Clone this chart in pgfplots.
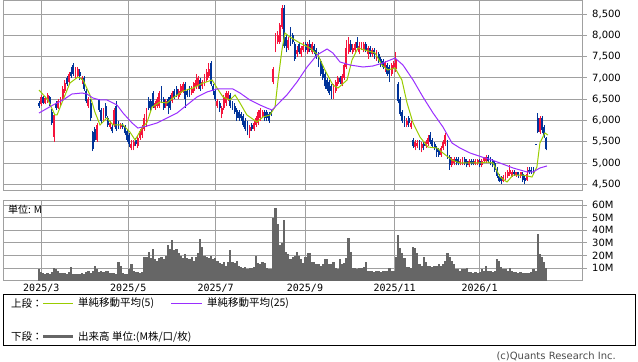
\documentclass[border=0pt]{standalone}
\usepackage{pgfplots}
\pgfplotsset{compat=1.18}
\usepackage{pgfplotstable}
\usepackage{fontspec}
\setmainfont{DejaVu Sans}
\newfontfamily\jp{Noto Sans CJK JP}
\newfontfamily\mono{DejaVu Sans Mono}
\definecolor{upred}{HTML}{F5143C}
\definecolor{downblue}{HTML}{003399}
\definecolor{mafivec}{HTML}{99CC00}
\definecolor{matwfc}{HTML}{9A2EFF}
\definecolor{volc}{HTML}{666666}
\definecolor{gridc}{HTML}{A0A0A0}

\pgfplotstableread{
x o h l c v
0 6420 6450 6300 6340 9
1 6380 6600 6350 6560 7
2 6550 6580 6380 6420 6
3 6400 6560 6380 6520 5.5
4 6450 6650 6420 6600 6
5 6550 6580 6350 6380 5.5
6 6200 6280 5900 5950 7
7 5620 6150 5500 6120 10
8 6400 6450 6250 6300 9.5
9 6300 6500 6280 6450 8
10 6400 6560 6350 6520 6
11 6500 6800 6480 6750 6.5
12 6700 6950 6650 6880 6
13 7000 7050 6800 6850 5.5
14 6900 7150 6850 7100 7
15 7150 7250 7000 7050 10.5
16 7300 7350 7050 7100 5
17 7050 7250 7000 7150 5.5
18 7050 7250 7000 7200 5
19 7150 7200 6950 7050 5
20 6950 7050 6850 7000 6
21 7000 7050 6700 6750 5
22 6700 6750 6400 6450 7
23 6350 6550 6300 6500 7.5
24 6400 6500 6000 6050 6.5
25 5730 5750 5280 5320 8
26 5800 5850 5500 5550 11.5
27 5550 5950 5500 5900 9
28 6480 6500 6200 6250 7
29 6250 6300 5950 6000 8
30 6050 6300 6000 6250 7
31 6350 6400 6050 6100 8
32 6050 6100 5850 5900 7.5
33 5850 6000 5800 5950 6.5
34 5850 5900 5700 5750 6
35 5900 6300 5850 6250 6
36 6350 6450 5750 5800 5.5
37 5950 6000 5800 5850 15
38 5850 5950 5800 5900 12
39 5900 5950 5800 5850 6
40 5850 5900 5650 5700 5
41 5750 5800 5500 5550 5.5
42 5650 5700 5380 5450 9
43 5350 5550 5300 5450 13
44 5400 5550 5300 5500 8
45 5550 5600 5400 5450 7
46 5400 5650 5350 5600 7
47 5600 5800 5550 5750 6.5
48 5650 5900 5600 5850 7
49 5800 6150 5750 6050 19
50 5900 6300 5850 6250 19
51 6450 6550 6250 6300 23
52 6450 6500 6200 6250 18
53 6650 6700 6300 6350 25
54 6300 6450 6250 6400 17
55 6350 6550 6300 6500 16
56 6350 6700 6300 6650 18
57 6700 6800 6400 6450 19
58 6500 6550 6250 6300 17
59 6350 6500 6300 6450 20
60 6500 6550 6150 6350 28
61 6550 6600 6250 6300 25
62 6450 6700 6400 6650 32
63 6700 6750 6500 6550 24
64 6750 6800 6550 6600 25
65 6550 6750 6500 6700 22
66 6650 6850 6600 6800 20
67 6700 6900 6650 6850 18
68 6850 6900 6300 6500 21
69 6700 6750 6550 6600 18
70 6750 6800 6550 6600 17
71 6650 6800 6600 6750 19
72 6700 6900 6650 6880 16
73 6800 7100 6750 6950 19
74 6800 7050 6750 7000 22
75 6950 7000 6700 6750 33
76 6800 6950 6750 6900 27
77 6850 7100 6800 7050 20
78 6950 7200 6900 7150 19
79 7050 7350 7000 7200 18
80 7350 7400 6800 6850 20
81 6800 6850 6600 6700 17
82 6700 6750 6450 6500 18
83 6350 6500 6300 6450 16
84 6400 6450 6200 6300 14
85 6150 6350 6050 6300 13
86 6300 6600 6250 6550 15
87 6400 6700 6350 6650 12
88 6500 6700 6450 6650 15
89 6600 6650 6300 6350 24
90 6400 6450 6250 6300 15
91 6350 6400 6150 6200 14
92 6250 6300 6000 6050 16
93 6200 6250 6000 6050 12
94 6150 6200 6000 6050 11
95 6100 6150 5850 5900 10
96 6000 6050 5750 5800 11
97 5950 6000 5650 5750 9
98 5750 5900 5600 5850 10
99 5900 5950 5750 5800 10
100 5800 6000 5750 5950 11
101 5900 6100 5850 6050 20
102 5950 6250 5900 6200 14
103 6050 6300 6000 6250 13
104 6100 6250 6050 6200 15
105 6200 6250 6000 6050 14
106 6200 6250 6000 6050 10
107 6150 6200 5950 6000 9
108 6200 6250 6100 6150 9.5
109 6900 7250 6850 7200 50
110 7700 8050 7600 7950 58
111 7850 8100 7800 8000 45
112 7850 8300 7800 8250 28
113 8200 8700 8150 8650 30
114 8650 8700 7700 7750 48
115 7950 8000 7600 7750 23
116 7700 7950 7650 7900 21
117 8150 8200 7750 7800 17
118 8000 8050 7800 7850 19
119 7800 7850 7400 7450 20
120 7550 7750 7500 7650 23
121 7800 7850 7550 7600 20
122 7550 7750 7500 7700 17
123 7650 7850 7600 7750 14
124 7800 7850 7600 7650 19
125 7600 7850 7550 7800 22
126 7800 7900 7600 7650 22
127 7600 7850 7550 7800 15
128 7750 7800 7550 7600 15
129 7650 7700 7450 7500 13
130 7550 7600 7250 7300 13
131 7400 7450 7050 7100 12
132 7200 7300 6950 7000 13
133 7100 7150 6750 6800 17
134 6950 7000 6700 6750 17
135 6900 6950 6600 6650 13
136 6800 6850 6500 6700 13
137 6600 6850 6500 6800 15
138 6700 6950 6650 6900 10
139 6850 7050 6800 7000 9
140 7000 7050 6850 6900 17
141 6850 7100 6800 7050 13
142 7000 7350 6950 7300 14
143 7250 7900 7200 7700 18
144 7600 7950 7550 7800 34
145 7800 7900 7600 7650 23
146 7600 7800 7550 7700 10
147 7650 7850 7600 7800 10
148 7850 7950 7650 7700 9
149 7600 7850 7550 7750 10
150 7700 7850 7650 7800 10
151 7650 7850 7600 7800 11
152 7800 7850 7600 7650 15
153 7550 7750 7450 7700 8
154 7700 7750 7500 7550 8
155 7550 7700 7500 7650 8
156 7650 7700 7450 7550 7
157 7450 7650 7400 7600 8
158 7550 7600 7350 7400 8
159 7450 7500 7250 7300 7
160 7400 7450 7200 7250 8
161 7250 7400 7150 7350 8
162 7300 7350 7050 7100 8
163 7250 7300 6900 7100 10
164 7100 7350 7050 7300 8
165 7250 7400 7200 7350 8
166 7200 7600 7150 7450 19
167 6850 6900 6400 6450 36
168 6500 6550 6100 6150 26
169 6200 6250 5950 6000 22
170 6050 6100 5850 5900 18
171 5900 6050 5850 6000 11
172 6050 6100 5850 5950 11
173 5850 6000 5800 5950 10
174 5550 5600 5350 5400 27
175 5380 5550 5300 5500 26
176 5400 5550 5350 5480 22
177 5500 5550 5300 5380 13
178 5350 5500 5250 5450 12
179 5450 5500 5300 5400 19
180 5400 5550 5350 5500 15
181 5450 5650 5400 5600 12
182 5650 5730 5450 5500 12
183 5550 5600 5350 5400 11
184 5450 5500 5300 5350 12
185 5350 5400 5150 5250 12
186 5300 5350 5150 5200 13
187 5200 5400 5150 5350 12
188 5350 5550 5300 5500 13
189 5450 5700 5400 5650 16
190 5500 5550 5100 5150 22
191 5150 5200 4850 4950 19
192 4950 5150 4900 5100 16
193 5000 5150 4950 5100 13
194 5100 5150 4950 5050 9
195 5100 5150 4950 5000 9
196 5000 5100 4950 5050 8
197 5000 5150 4950 5100 9
198 5100 5150 4950 5000 9
199 5050 5100 4900 4950 10
200 4950 5100 4900 5050 7
201 5050 5100 4950 5000 7
202 5050 5100 4950 4980 6
203 4980 5100 4950 5050 7
204 5000 5100 4950 5080 6.5
205 5050 5100 4900 4960 7
206 4950 5100 4900 5050 9
207 5050 5150 5000 5120 8
208 5050 5180 5000 5150 12
209 5150 5200 5000 5050 8
210 5100 5150 4950 5000 8
211 5050 5100 4900 4950 7
212 5000 5050 4800 4850 8
213 4850 4900 4650 4700 17
214 4700 4750 4550 4580 16
215 4650 4700 4520 4570 11
216 4580 4720 4550 4680 9
217 4650 4800 4600 4750 9
218 4700 4850 4650 4800 8
219 4750 4950 4700 4850 10
220 4700 4850 4680 4780 8
221 4800 4850 4700 4750 7
222 4720 4800 4680 4780 7
223 4780 4800 4650 4720 6.5
224 4700 4800 4650 4780 7
225 4750 4780 4550 4600 6
226 4650 4700 4520 4580 6
227 4600 4900 4580 4750 6.5
228 4850 4900 4750 4780 6
229 4850 4900 4750 4780 7
230 4850 4900 4750 4800 9
231 5460 5460 5440 5440 8
232 6050 6180 5700 5720 37
233 5720 6100 5680 6050 21
234 6050 6100 5700 5780 19
235 5850 5900 5600 5650 15
236 5600 5620 5300 5320 10
}\candles

\pgfplotstableread{
x y
0 6716
4.2 6482
7.4 6130
8.4 6130
11.2 6482
14.4 6880
18.1 7021
20.5 6951
23.7 6599
26.0 6200
28.4 5895
31.6 6060
34.4 5895
39.1 5895
42.3 5730
44.7 5543
47.9 5824
50.2 5950
52.6 6317
56.3 6435
59.5 6411
62.3 6529
67.0 6693
71.6 6763
76.3 6880
80.5 6951
82.8 6763
85.6 6552
88.8 6482
91.2 6599
93.5 6411
96.7 6130
101.4 5965
104.2 6083
107.4 6130
109.8 6317
111.2 6951
113.0 7655
114.4 8054
116.7 7960
121.4 7819
126.0 7702
129.8 7538
133.0 7186
136.7 6834
139.1 6763
143.3 6951
145.6 7420
148.4 7702
151.6 7655
156.3 7585
159.5 7303
162.3 7186
165.6 7233
168.8 6951
171.2 6411
174.0 5942
177.2 5613
180.9 5378
185.1 5355
187.9 5238
192.1 5073
195.8 5003
200.5 5003
205.1 5003
208.4 5026
211.2 5003
214.4 4674
217.7 4557
220.5 4721
225.1 4721
229.3 4674
231.6 4909
233.0 5472
235.3 5707
236.7 5660
}\mafive

\pgfplotstableread{
x y
0 6176
6.5 6364
11.2 6482
15.3 6622
20.0 6646
22.3 6622
25.1 6529
28.4 6482
31.6 6482
36.3 6364
39.1 6176
43.3 5942
46.0 5824
50.2 5871
54.9 5942
59.5 6059
64.2 6176
68.8 6364
73.5 6552
78.1 6669
82.8 6740
90.2 6740
93.5 6646
98.1 6482
102.8 6364
106.0 6294
108.4 6247
110.7 6364
115.3 6599
120.0 6904
124.7 7256
129.3 7538
134.0 7679
136.7 7585
140.0 7374
144.7 7303
150.7 7256
155.3 7280
160.0 7350
165.6 7467
169.3 7303
174.0 6951
178.6 6552
183.3 6176
187.9 5848
192.1 5472
195.8 5355
200.5 5238
206.0 5144
210.7 5073
214.4 5003
220.5 4886
227.0 4792
229.8 4792
233.0 4886
236.3 4933
}\matwentyfive

\pgfplotsset{
  candlebase/.style={draw=none, mark=none,
    error bars/y dir=plus, error bars/y explicit, error bars/error mark=none},
  common/.style={
    scale only axis, width=579.4bp,
    xmin=-16.6, xmax=252.9,
    xtick={1.07,41.53,82.19,123.72,165.44,204.98},
    grid=major, grid style={gridc, line width=0.9bp},
    axis line style={gridc, line width=0.9bp},
    ytick pos=right, yticklabel pos=right,
    tick align=outside, major tick length=4bp,
    ytick style={gridc, line width=0.9bp},
    xtick style={draw=none},
    /pgf/number format/assume math mode=true,
    yticklabel style={font=\fontsize{10bp}{12bp}\selectfont, xshift=2bp},
  }
}

\begin{document}
\begin{tikzpicture}[x=1bp,y=1bp]
\path[use as bounding box] (0bp,0bp) rectangle (638bp,-362bp);

\begin{axis}[common,
  at={(3.3bp,-190bp)}, anchor=south west, height=190bp,
  ymin=4369, ymax=8829,
  ytick={4500,5000,...,8500},
  xticklabels={},
]
\addplot[candlebase, restrict expr to domain={\thisrow{c}-\thisrow{o}}{0:100000},
  error bars/error bar style={draw=upred, line width=0.8bp}]
  table[x=x, y=l, y error plus expr=\thisrow{h}-\thisrow{l}] {\candles};
\addplot[candlebase, restrict expr to domain={\thisrow{c}-\thisrow{o}}{-100000:-0.001},
  error bars/error bar style={draw=downblue, line width=0.8bp}]
  table[x=x, y=l, y error plus expr=\thisrow{h}-\thisrow{l}] {\candles};
\addplot[candlebase, restrict expr to domain={\thisrow{c}-\thisrow{o}}{0:100000},
  error bars/error bar style={draw=upred, line width=1.9bp}]
  table[x=x, y=o, y error plus expr=\thisrow{c}-\thisrow{o}] {\candles};
\addplot[candlebase, restrict expr to domain={\thisrow{c}-\thisrow{o}}{-100000:-0.001},
  error bars/error bar style={draw=downblue, line width=1.9bp}]
  table[x=x, y=c, y error plus expr=\thisrow{o}-\thisrow{c}] {\candles};
\addplot[mafivec, line width=1bp, mark=none] table[x=x,y=y] {\mafive};
\addplot[matwfc, line width=1bp, mark=none] table[x=x,y=y] {\matwentyfive};
\end{axis}

\begin{axis}[common,
  at={(3.3bp,-280.7bp)}, anchor=south west, height=80bp,
  ymin=0, ymax=63.5,
  ytick={10,20,...,60},
  yticklabel={\pgfmathprintnumber{\tick}M},
  xticklabels={2025/3,2025/5,2025/7,2025/9,2025/11,2026/1},
  xticklabel style={font=\mono\fontsize{10bp}{12bp}\selectfont, yshift=4.5bp},
]
\addplot[ycomb, volc, line width=2.2bp, mark=none] table[x=x, y=v] {\candles};
\end{axis}

\node[anchor=west, inner sep=0, font=\jp\fontsize{10bp}{12bp}\selectfont] at (8bp,-210bp) {単位: M};

\draw[black, line width=0.9bp] (3.3bp,-294bp) rectangle (635bp,-345.7bp);
\begin{scope}[every node/.style={anchor=west, inner sep=0, font=\jp\fontsize{10.5bp}{12bp}\selectfont}]
\node at (11bp,-303.3bp) {上段：};
\draw[mafivec, line width=1.2bp] (43.3bp,-303.3bp) -- (72.7bp,-303.3bp);
\node at (78bp,-303.3bp) {単純移動平均(5)};
\draw[matwfc, line width=1.2bp] (171bp,-303.3bp) -- (201.7bp,-303.3bp);
\node at (207bp,-303.3bp) {単純移動平均(25)};
\node at (11bp,-336.7bp) {下段：};
\draw[volc, line width=3bp] (43.3bp,-336.7bp) -- (72.7bp,-336.7bp);
\node at (78bp,-336.7bp) {出来高 単位:(M株/口/枚)};
\end{scope}
\node[anchor=east, inner sep=0, text=black!70, font=\fontsize{10bp}{12bp}\selectfont] at (616bp,-356.7bp) {(c)Quants Research Inc.};
\end{tikzpicture}
\end{document}
